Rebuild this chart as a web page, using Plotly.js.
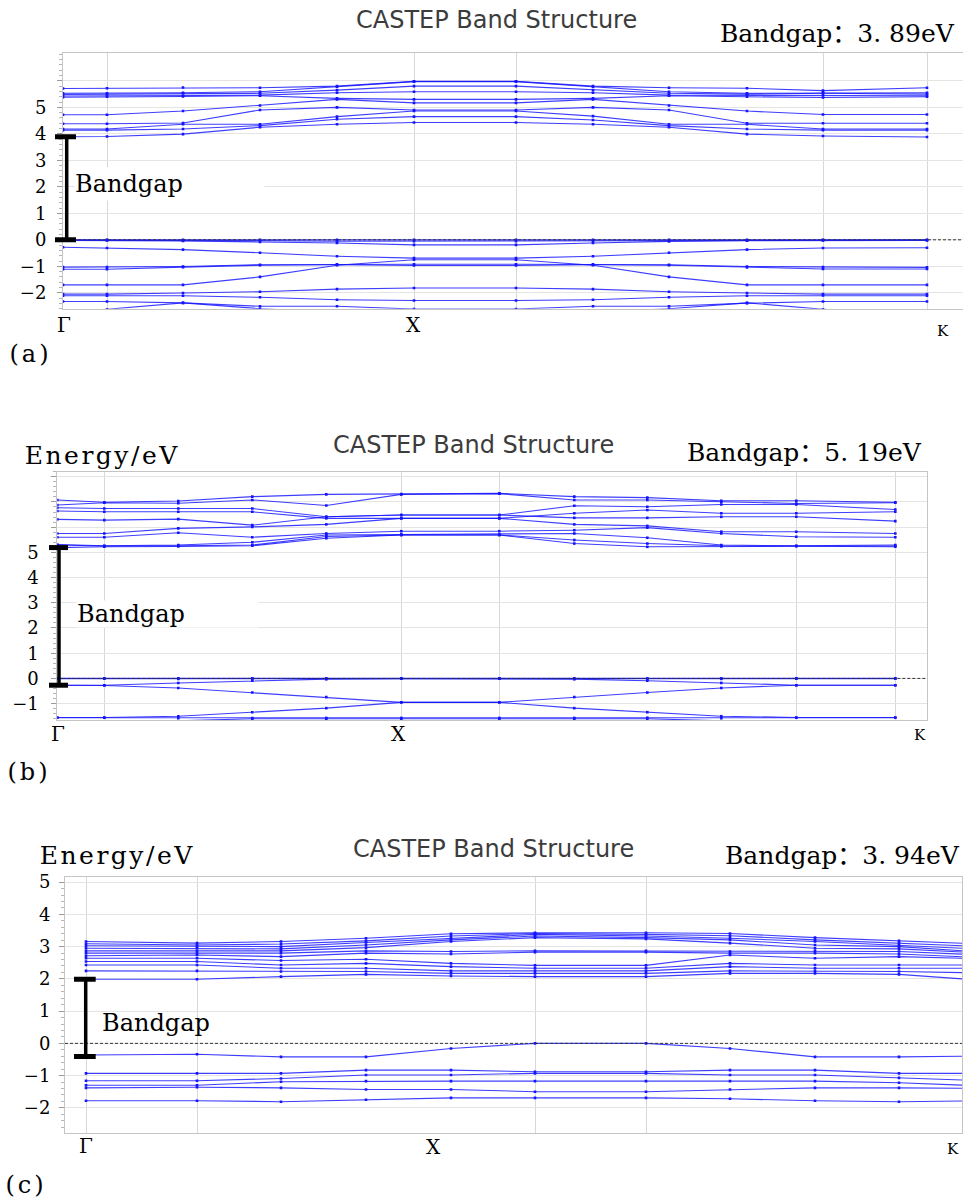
<!DOCTYPE html>
<html><head><meta charset="utf-8">
<script src="https://cdn.plot.ly/plotly-3.0.1.min.js"></script>
<style>html,body{margin:0;padding:0;background:#fff}#chart{width:963px;height:1198px}</style>
</head><body><div id="chart"></div>
<script>
// ---------- DATA ----------
// k-path positions (path length units) for each panel
const kA = [0, 0.44, 1.20, 1.97, 2.74, 3.51, 4.53, 5.30, 6.06, 6.84, 7.60, 8.64];
const kB = [0, 0.47, 1.21, 1.95, 2.69, 3.44, 4.42, 5.17, 5.90, 6.64, 7.39, 8.38];
const kC = [0.21, 1.32, 2.16, 3.01, 3.86, 4.70, 5.81, 6.65, 7.50, 8.34, 9.19];

// high-symmetry labels and their positions
const kLabels = ['Γ', 'X', 'K'];
const kLabelPosA = [0.01, 3.50, 8.80];
const kLabelPosB = [0.01, 3.41, 8.63];
const kLabelPosC = [0.21, 3.68, 8.88];
// vertical grid positions
const gridA = [0.44, 3.51, 4.53, 7.60, 8.64];
const gridB = [0.47, 3.44, 4.42, 7.39, 8.38];
const gridC = [0.21, 1.32, 4.70, 5.81];

// (a) conduction bands (eV)
const condA = [
  [3.89, 3.90, 3.99, 4.25, 4.36, 4.43, 4.43, 4.36, 4.25, 3.99, 3.92, 3.88],
  [4.14, 4.14, 4.18, 4.31, 4.55, 4.65, 4.65, 4.52, 4.31, 4.18, 4.14, 4.14],
  [4.18, 4.18, 4.36, 4.36, 4.65, 4.86, 4.86, 4.67, 4.36, 4.36, 4.18, 4.18],
  [4.38, 4.38, 4.41, 4.90, 5.00, 4.90, 4.90, 5.00, 4.90, 4.40, 4.40, 4.40],
  [4.72, 4.72, 4.86, 5.07, 5.30, 5.17, 5.17, 5.30, 5.07, 4.86, 4.73, 4.73],
  [5.38, 5.40, 5.41, 5.44, 5.34, 5.30, 5.30, 5.34, 5.44, 5.40, 5.37, 5.40],
  [5.43, 5.44, 5.44, 5.46, 5.55, 5.59, 5.59, 5.55, 5.46, 5.46, 5.46, 5.44],
  [5.49, 5.50, 5.53, 5.53, 5.65, 5.80, 5.80, 5.65, 5.53, 5.50, 5.53, 5.50],
  [5.53, 5.53, 5.55, 5.59, 5.78, 5.97, 5.97, 5.78, 5.59, 5.53, 5.55, 5.55],
  [5.71, 5.72, 5.75, 5.74, 5.80, 5.98, 5.98, 5.80, 5.74, 5.72, 5.63, 5.74]
];
// (a) valence bands (eV)
const valA = [
  [0, 0, 0, 0, 0, 0, 0, 0, 0, 0, 0, 0],
  [-0.01, -0.01, -0.03, -0.03, -0.05, -0.05, -0.05, -0.05, -0.03, -0.02, -0.01, -0.01],
  [-0.02, -0.02, -0.04, -0.08, -0.12, -0.19, -0.19, -0.12, -0.06, -0.03, -0.02, -0.02],
  [-0.28, -0.31, -0.37, -0.49, -0.62, -0.69, -0.69, -0.62, -0.49, -0.37, -0.31, -0.30],
  [-1.03, -1.03, -1.01, -0.94, -0.92, -0.92, -0.92, -0.92, -0.94, -1.01, -1.03, -1.04],
  [-1.11, -1.11, -1.03, -0.96, -0.94, -0.97, -0.97, -0.94, -0.96, -1.04, -1.10, -1.10],
  [-1.70, -1.70, -1.70, -1.40, -0.96, -0.75, -0.75, -0.96, -1.40, -1.70, -1.70, -1.70],
  [-2.05, -2.05, -2.01, -1.96, -1.86, -1.82, -1.82, -1.86, -1.96, -2.01, -2.05, -2.05],
  [-2.11, -2.11, -2.11, -2.17, -2.26, -2.29, -2.29, -2.26, -2.17, -2.11, -2.10, -2.11],
  [-2.33, -2.33, -2.38, -2.51, -2.51, -2.61, -2.61, -2.51, -2.51, -2.39, -2.33, -2.33],
  [-2.90, -2.62, -2.38, -2.60, -2.75, -2.80, -2.80, -2.75, -2.60, -2.38, -2.62, -2.90]
];

// (b) conduction bands (eV)
const condB = [
  [5.19, 5.22, 5.23, 5.26, 5.56, 5.69, 5.69, 5.35, 5.22, 5.24, 5.24, 5.22],
  [5.29, 5.25, 5.26, 5.29, 5.63, 5.69, 5.69, 5.49, 5.35, 5.26, 5.25, 5.25],
  [5.31, 5.26, 5.29, 5.40, 5.69, 5.71, 5.71, 5.75, 5.58, 5.29, 5.26, 5.29],
  [5.60, 5.60, 5.78, 5.60, 5.75, 5.84, 5.84, 5.88, 5.98, 5.75, 5.62, 5.60],
  [5.75, 5.75, 5.95, 6.01, 6.11, 6.35, 6.35, 6.11, 6.05, 5.82, 5.82, 5.75],
  [6.31, 6.28, 6.32, 6.08, 6.41, 6.48, 6.48, 6.37, 6.37, 6.41, 6.41, 6.24],
  [6.64, 6.61, 6.61, 6.61, 6.35, 6.35, 6.35, 6.55, 6.68, 6.55, 6.55, 6.61],
  [6.77, 6.74, 6.74, 6.74, 6.41, 6.48, 6.48, 6.85, 6.81, 6.90, 6.90, 6.70],
  [6.88, 6.97, 6.95, 7.08, 6.86, 7.30, 7.33, 7.08, 7.08, 7.00, 6.94, 6.97],
  [7.08, 6.99, 7.04, 7.21, 7.30, 7.31, 7.34, 7.21, 7.17, 7.05, 7.05, 6.99]
];
// (b) valence bands (eV)
const valB = [
  [0, 0, 0, 0, 0, 0, 0, 0, 0, 0, 0, 0],
  [-0.01, -0.01, -0.02, -0.03, -0.02, -0.01, -0.01, -0.02, -0.03, -0.02, -0.01, -0.01],
  [-0.27, -0.27, -0.18, -0.09, -0.03, -0.01, -0.01, -0.03, -0.09, -0.18, -0.27, -0.27],
  [-0.27, -0.28, -0.38, -0.56, -0.74, -0.95, -0.95, -0.74, -0.56, -0.38, -0.27, -0.27],
  [-1.55, -1.55, -1.50, -1.34, -1.18, -0.95, -0.95, -1.18, -1.34, -1.50, -1.55, -1.55],
  [-1.56, -1.56, -1.56, -1.57, -1.57, -1.57, -1.57, -1.57, -1.56, -1.56, -1.56, -1.56],
  [-1.90, -1.80, -1.68, -1.60, -1.60, -1.60, -1.60, -1.60, -1.60, -1.68, -1.80, -1.90]
];

// (c) conduction bands (eV)
const condC = [
  [1.99, 1.99, 2.07, 2.14, 2.09, 2.07, 2.07, 2.17, 2.17, 2.14, 1.95],
  [2.25, 2.25, 2.23, 2.23, 2.17, 2.17, 2.17, 2.25, 2.25, 2.23, 2.18],
  [2.43, 2.43, 2.33, 2.33, 2.25, 2.25, 2.25, 2.38, 2.33, 2.33, 2.33],
  [2.54, 2.54, 2.43, 2.48, 2.38, 2.33, 2.33, 2.48, 2.43, 2.43, 2.43],
  [2.64, 2.64, 2.57, 2.61, 2.48, 2.42, 2.42, 2.74, 2.64, 2.69, 2.62],
  [2.72, 2.74, 2.69, 2.80, 2.77, 2.83, 2.83, 2.80, 2.80, 2.77, 2.66],
  [2.80, 2.80, 2.80, 2.87, 2.85, 2.87, 2.87, 2.85, 2.87, 2.85, 2.74],
  [2.87, 2.87, 2.87, 2.97, 3.16, 3.28, 3.24, 3.11, 2.95, 2.93, 2.80],
  [2.95, 2.95, 2.93, 3.05, 3.21, 3.33, 3.28, 3.21, 3.05, 3.00, 2.83],
  [3.03, 3.00, 3.00, 3.13, 3.26, 3.38, 3.33, 3.26, 3.16, 3.05, 2.92],
  [3.09, 3.05, 3.08, 3.18, 3.33, 3.41, 3.38, 3.34, 3.21, 3.11, 3.00],
  [3.16, 3.11, 3.16, 3.26, 3.40, 3.43, 3.43, 3.41, 3.28, 3.18, 3.08]
];
// (c) valence bands (eV)
const valC = [
  [-0.36, -0.34, -0.42, -0.42, -0.16, 0, 0, -0.16, -0.42, -0.42, -0.39],
  [-0.93, -0.93, -0.93, -0.83, -0.83, -0.88, -0.88, -0.83, -0.83, -0.93, -0.93],
  [-1.16, -1.16, -1.09, -0.98, -0.98, -0.93, -0.93, -0.98, -0.98, -1.07, -1.16],
  [-1.30, -1.30, -1.19, -1.17, -1.17, -1.17, -1.17, -1.17, -1.17, -1.22, -1.32],
  [-1.38, -1.36, -1.38, -1.43, -1.43, -1.50, -1.50, -1.43, -1.38, -1.38, -1.40],
  [-1.78, -1.78, -1.81, -1.75, -1.69, -1.69, -1.69, -1.72, -1.78, -1.81, -1.78]
];

// bandgap marker ends (eV) and reported gaps
const gapLow = [0, -0.27, -0.41];
const gapHigh = [3.89, 5.19, 1.99];
const gapText = ['3. 89', '5. 19', '3. 94'];
const panelTags = ['(a)', '(b)', '(c)'];

// y tick values / labels
const yTickValsA = [-2, -1, 0, 1, 2, 3, 4, 5, 6];
const yTickTextA = ['−2', '−1', '0', '1', '2', '3', '4', '5', ''];
const yTickValsB = [-1, 0, 1, 2, 3, 4, 5, 6, 7, 8];
const yTickTextB = ['−1', '0', '1', '2', '3', '4', '5', '', '', ''];
const yTickValsC = [-2, -1, 0, 1, 2, 3, 4, 5];
const yTickTextC = ['−2', '−1', '0', '1', '2', '3', '4', '5'];

// ---------- LAYOUT / STYLE ----------
const W = 963, H = 1198;
const px = v => v / W;
const py = v => 1 - v / H;
const serif = 'DejaVu Serif, Liberation Serif, Noto Sans CJK SC, serif';
const sans = 'DejaVu Sans, Verdana, sans-serif';
const lineColor = 'rgba(20,20,255,0.82)';

const panels = [
  {ax: '', k: kA, bands: condA.concat(valA), grid: gridA, labPos: kLabelPosA,
   domX: [63, 963], domY: [53.3, 308.7], xr: [0, 9.0], yr: [-2.6, 7.04],
   tv: yTickValsA, tt: yTickTextA, standoff: 7,
   bar: {x: 66.7, l: 55, r: 76}, labY: [325, 325, 331], kSize: [20, 20, 15],
   title: {x: 496, y: 20}, gapLbl: {x: 718, y: 33}, energy: null, tag: {x: 12, y: 354},
   inner: {x: 74, E: 2.1, w: 189, h: 32, bg: true}},
  {ax: '2', k: kB, bands: condB.concat(valB), grid: gridB, labPos: kLabelPosB,
   domX: [57.3, 926.7], domY: [471.7, 720], xr: [0, 8.694], yr: [-1.65, 8.2],
   tv: yTickValsB, tt: yTickTextB, standoff: 9,
   bar: {x: 59, l: 49, r: 68}, labY: [734, 734, 735], kSize: [20, 20, 15],
   title: {x: 473, y: 445}, gapLbl: {x: 685, y: 452}, energy: {x: 34, y: 455}, tag: {x: 10, y: 772},
   inner: {x: 76, E: 2.54, w: 181, h: 26, bg: true}},
  {ax: '3', k: kC, bands: condC.concat(valC), grid: gridC, labPos: kLabelPosC,
   domX: [65, 962], domY: [876.7, 1133.3], xr: [0, 8.97], yr: [-2.79, 5.17],
   tv: yTickValsC, tt: yTickTextC, standoff: 5,
   bar: {x: 85.7, l: 74, r: 95.7}, labY: [1146, 1147, 1149], kSize: [20, 20, 15],
   title: {x: 493, y: 849}, gapLbl: {x: 723, y: 855}, energy: {x: 49, y: 855}, tag: {x: 8, y: 1185},
   inner: {x: 101, E: 0.62, w: 0, h: 0, bg: false}}
];

const traces = [];
const layout = {
  width: W, height: H, margin: {l: 0, r: 0, t: 0, b: 0},
  paper_bgcolor: '#fff', plot_bgcolor: '#fff', showlegend: false, hovermode: false,
  shapes: [], annotations: []
};

panels.forEach((p, i) => {
  const xid = 'x' + p.ax, yid = 'y' + p.ax;
  p.bands.forEach(b => {
    traces.push({
      type: 'scatter', mode: 'lines+markers', x: p.k, y: b, xaxis: xid, yaxis: yid,
      line: {color: lineColor, width: 1.1},
      marker: {symbol: 'square', size: 2.6, color: '#1414ff'},
      hoverinfo: 'skip', cliponaxis: true
    });
  });
  layout['xaxis' + p.ax] = {
    domain: [px(p.domX[0]), px(p.domX[1])], range: p.xr, anchor: yid,
    tickmode: 'array', tickvals: p.grid, showticklabels: false, ticks: '',
    showgrid: true, gridcolor: '#d8d8d8', gridwidth: 1, zeroline: false,
    showline: true, mirror: true, linecolor: '#c4c4c4', linewidth: 1, fixedrange: true
  };
  layout['yaxis' + p.ax] = {
    domain: [py(p.domY[1]), py(p.domY[0])], range: p.yr, anchor: xid,
    tickmode: 'array', tickvals: p.tv, ticktext: p.tt,
    ticks: 'outside', ticklen: 5, tickcolor: '#9a9a9a', ticklabelstandoff: p.standoff,
    minor: {tickmode: 'linear', tick0: 0, dtick: 0.2, ticks: 'outside', ticklen: 3, tickcolor: '#b5b5b5', showgrid: false},
    tickfont: {family: serif, size: 18, color: '#000'},
    showgrid: true, gridcolor: '#e4e4e4', gridwidth: 1, zeroline: false,
    showline: true, mirror: true, linecolor: '#c4c4c4', linewidth: 1, fixedrange: true
  };
  // Fermi level dashed line
  layout.shapes.push({type: 'line', xref: xid + ' domain', x0: 0, x1: 1, yref: yid, y0: 0, y1: 0,
    line: {color: '#333', width: 1, dash: '3px,2px'}, layer: 'above'});
  // bandgap bar
  layout.shapes.push({type: 'line', xref: 'paper', x0: px(p.bar.x), x1: px(p.bar.x), yref: yid,
    y0: gapLow[i], y1: gapHigh[i], line: {color: '#000', width: 3.5}, layer: 'above'});
  [gapLow[i], gapHigh[i]].forEach(e => {
    layout.shapes.push({type: 'line', xref: 'paper', x0: px(p.bar.l), x1: px(p.bar.r), yref: yid,
      y0: e, y1: e, line: {color: '#000', width: 5}, layer: 'above'});
  });
  // k-point labels
  kLabels.forEach((t, j) => {
    layout.annotations.push({text: t, xref: xid, x: p.labPos[j], yref: 'paper', y: py(p.labY[j]),
      xanchor: 'center', yanchor: 'middle', showarrow: false,
      font: {family: serif, size: p.kSize[j], color: '#000'}});
  });
  // title
  layout.annotations.push({text: 'CASTEP Band Structure', xref: 'paper', yref: 'paper',
    x: px(p.title.x), y: py(p.title.y), xanchor: 'center', yanchor: 'middle', showarrow: false,
    font: {family: sans, size: 24, color: '#3c3c3c'}});
  // bandgap value
  layout.annotations.push({text: 'Bandgap：' + gapText[i] + 'eV', xref: 'paper', yref: 'paper',
    x: px(p.gapLbl.x), y: py(p.gapLbl.y), xanchor: 'left', yanchor: 'middle', showarrow: false,
    font: {family: serif, size: 25, color: '#000'}});
  // energy axis title
  if (p.energy) {
    layout.annotations.push({text: 'Energy/eV', xref: 'paper', yref: 'paper',
      x: px(p.energy.x), y: py(p.energy.y), xanchor: 'left', yanchor: 'middle', showarrow: false,
      font: {family: serif, size: 25, color: '#000'}});
  }
  // panel tag
  layout.annotations.push({text: panelTags[i], xref: 'paper', yref: 'paper',
    x: px(p.tag.x), y: py(p.tag.y), xanchor: 'left', yanchor: 'middle', showarrow: false,
    font: {family: serif, size: 24, color: '#000'}});
  // inner "Bandgap" label
  const inner = {text: 'Bandgap', xref: 'paper', x: px(p.inner.x), xanchor: 'left',
    yref: yid, y: p.inner.E, yanchor: 'middle', showarrow: false, borderpad: 0,
    font: {family: serif, size: 24, color: '#000'}};
  if (p.inner.bg) { inner.bgcolor = '#fff'; inner.width = p.inner.w; inner.height = p.inner.h; inner.align = 'left'; }
  layout.annotations.push(inner);
});

Plotly.newPlot('chart', traces, layout, {displayModeBar: false, staticPlot: true}).then(gd => {
  // widen letter spacing of a few serif labels to match the reference's wide lettering
  gd.querySelectorAll('.annotation-text').forEach(el => {
    const t = el.textContent;
    if (t === 'Energy/eV') el.setAttribute('letter-spacing', '2.5px');
    if (/^\([abc]\)$/.test(t)) el.setAttribute('letter-spacing', '3px');
  });
});
</script>
</body></html>
